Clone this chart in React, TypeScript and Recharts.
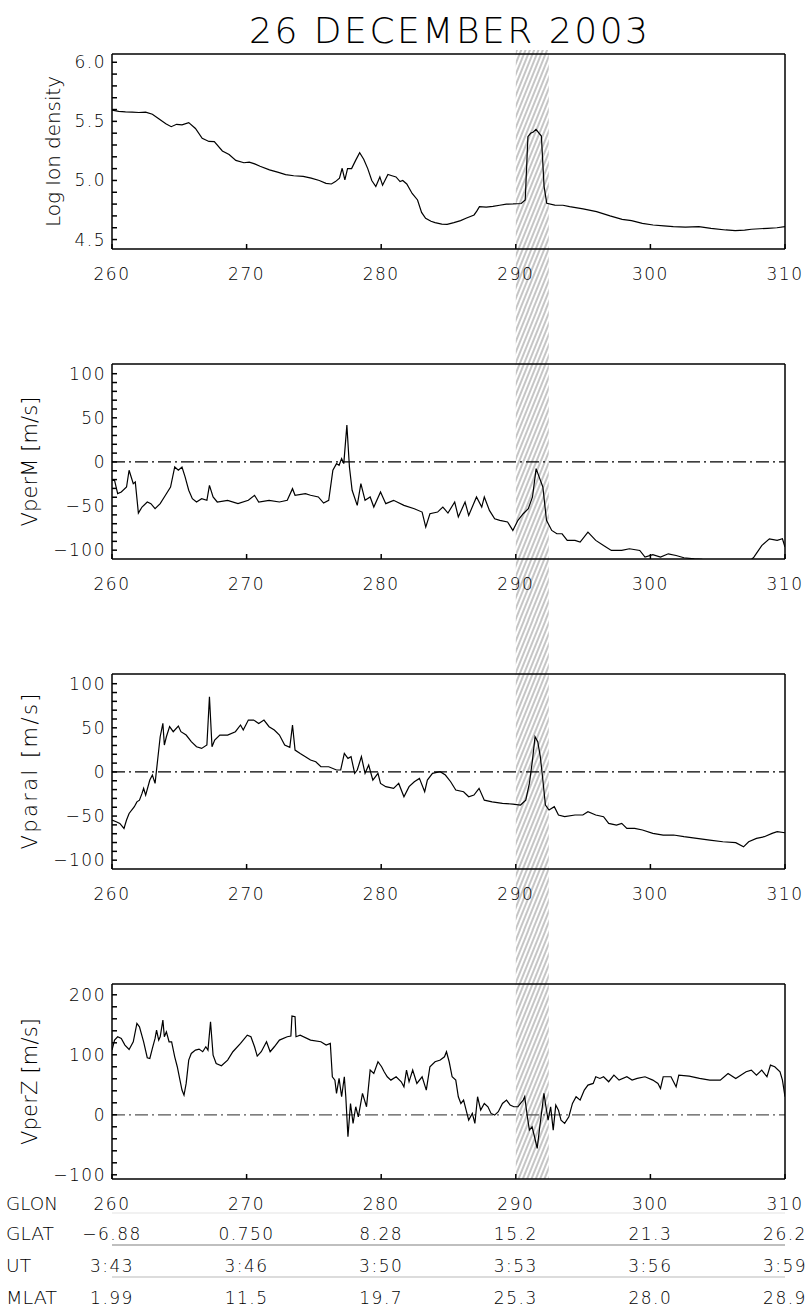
import React from 'react';
import { LineChart, Line, XAxis, YAxis, ReferenceLine, ReferenceArea } from 'recharts';

const W = 809;
const FONT = "'DejaVu Sans', 'Liberation Sans', sans-serif";
const INK = '#000';

// x axis + the table rows under the last panel
const glonTicks = [260, 270, 280, 290, 300, 310];
const glatLabels = ['−6.88', '0.750', '8.28', '15.2', '21.3', '26.2'];
const utLabels = ['3:43', '3:46', '3:50', '3:53', '3:56', '3:59'];
const mlatLabels = ['1.99', '11.5', '19.7', '25.3', '28.0', '28.9'];

// hatched longitude band
const bandLon = [290.0, 292.45];

const densTicks = [4.5, 4.6, 4.7, 4.8, 4.9, 5.0, 5.1, 5.2, 5.3, 5.4, 5.5, 5.6, 5.7, 5.8, 5.9, 6.0];
const velTicks = [-100, -90, -80, -70, -60, -50, -40, -30, -20, -10, 0, 10, 20, 30, 40, 50, 60, 70, 80, 90, 100];
const perZTicks = [-100, -80, -60, -40, -20, 0, 20, 40, 60, 80, 100, 120, 140, 160, 180, 200];

// Log ion density
const densLon = [260.0, 260.5, 261.0, 261.5, 262.0, 262.5, 263.0, 263.5, 264.0, 264.4, 264.8, 265.2, 265.7, 266.2, 266.7, 267.2, 267.6, 268.2, 268.7, 269.2, 269.8, 270.2, 270.6, 271.0, 271.7, 272.3, 272.9, 273.5, 274.2, 274.8, 275.4, 275.9, 276.3, 276.6, 276.9, 277.1, 277.3, 277.5, 277.8, 278.1, 278.4, 278.7, 279.0, 279.3, 279.6, 279.9, 280.1, 280.5, 280.8, 281.1, 281.4, 281.6, 281.9, 282.3, 282.7, 283.0, 283.3, 283.7, 284.0, 284.5, 284.9, 285.4, 285.9, 286.3, 286.9, 287.1, 287.3, 287.8, 288.3, 288.8, 289.3, 289.8, 290.4, 290.7, 290.9, 291.1, 291.3, 291.5, 291.9, 292.1, 292.3, 292.9, 293.5, 294.0, 295.0, 296.0, 297.0, 297.9, 298.6, 299.4, 300.2, 301.0, 301.7, 302.6, 303.6, 304.5, 305.6, 306.3, 307.0, 307.5, 308.7, 309.4, 310.0];
const densVal = [5.596, 5.585, 5.58, 5.578, 5.575, 5.578, 5.56, 5.52, 5.48, 5.455, 5.475, 5.47, 5.489, 5.44, 5.357, 5.33, 5.328, 5.25, 5.22, 5.17, 5.15, 5.155, 5.14, 5.12, 5.09, 5.07, 5.05, 5.04, 5.035, 5.02, 5.0, 4.976, 4.97, 4.99, 5.02, 5.103, 5.004, 5.1, 5.1, 5.17, 5.235, 5.18, 5.1, 5.0, 4.948, 5.03, 4.96, 5.05, 5.04, 5.03, 4.99, 5.0, 4.97, 4.89, 4.835, 4.73, 4.68, 4.655, 4.643, 4.63, 4.629, 4.643, 4.66, 4.68, 4.708, 4.74, 4.778, 4.775, 4.78, 4.79, 4.8, 4.801, 4.805, 4.835, 5.371, 5.399, 5.41, 5.433, 5.376, 4.95, 4.807, 4.792, 4.79, 4.778, 4.76, 4.736, 4.7, 4.671, 4.66, 4.637, 4.623, 4.615, 4.609, 4.605, 4.609, 4.595, 4.581, 4.575, 4.58, 4.587, 4.595, 4.6, 4.609];

// VperM [m/s]
const perMLon = [260.0, 260.19, 260.42, 260.69, 261.08, 261.27, 261.58, 261.73, 261.96, 262.23, 262.62, 262.89, 263.2, 263.58, 263.97, 264.35, 264.66, 264.93, 265.2, 265.43, 265.7, 265.97, 266.28, 266.66, 267.05, 267.24, 267.51, 267.82, 268.59, 269.36, 270.13, 270.59, 270.9, 271.67, 272.44, 273.02, 273.41, 273.6, 274.37, 274.75, 275.33, 275.72, 276.1, 276.41, 276.68, 276.87, 277.06, 277.22, 277.45, 277.64, 277.84, 278.22, 278.49, 278.8, 279.18, 279.45, 279.95, 280.34, 280.92, 281.69, 282.46, 283.04, 283.31, 283.62, 284.19, 284.58, 284.96, 285.46, 285.73, 286.23, 286.5, 287.08, 287.47, 287.66, 288.04, 288.43, 288.81, 289.39, 289.78, 290.16, 290.55, 290.93, 291.24, 291.51, 291.78, 292.01, 292.28, 292.67, 293.05, 293.44, 293.82, 294.4, 294.78, 295.36, 295.94, 296.52, 297.1, 297.87, 298.44, 299.21, 299.6, 300.18, 300.75, 301.33, 301.91, 302.49, 303.26, 303.84, 304.3, 305.5, 306.8, 307.4, 307.69, 308.27, 308.84, 309.42, 309.81, 310.0];
const perMVal = [-20.8, -20.8, -35.9, -34.0, -28.4, -9.4, -24.6, -22.7, -57.9, -51.1, -45.4, -47.3, -53.0, -47.3, -37.8, -28.4, -5.7, -9.4, -5.7, -17.0, -32.1, -41.7, -45.4, -41.7, -43.5, -26.5, -39.7, -45.4, -43.5, -47.3, -43.5, -37.8, -45.4, -43.5, -45.4, -43.5, -30.3, -37.8, -36.0, -37.8, -39.7, -46.6, -43.5, -9.4, -1.9, -3.8, 3.8, -1.9, 41.7, -5.7, -32.1, -49.2, -24.6, -43.5, -39.7, -51.1, -34.0, -47.3, -43.5, -49.2, -53.0, -56.8, -73.8, -58.7, -56.8, -51.1, -57.9, -45.4, -62.4, -45.4, -60.6, -39.7, -51.1, -39.7, -54.9, -64.4, -66.2, -68.1, -77.6, -66.2, -58.7, -53.0, -39.7, -7.6, -18.9, -28.4, -66.2, -77.6, -81.4, -81.4, -88.9, -88.9, -90.8, -79.5, -88.9, -94.8, -100.3, -100.3, -98.4, -100.3, -107.9, -105.1, -107.9, -104.1, -106.0, -108.6, -109.8, -110.5, -115.0, -120.0, -118.0, -112.0, -107.9, -94.8, -87.1, -88.9, -87.1, -96.5];

// Vparal [m/s]
const paralLon = [260.0, 260.31, 260.58, 260.89, 261.08, 261.27, 261.66, 261.85, 262.04, 262.23, 262.35, 262.5, 262.81, 263.0, 263.2, 263.39, 263.58, 263.78, 263.89, 264.04, 264.28, 264.55, 264.93, 265.12, 265.51, 265.89, 266.28, 266.66, 267.05, 267.24, 267.43, 267.63, 268.01, 268.59, 269.17, 269.55, 269.75, 270.13, 270.52, 270.9, 271.29, 271.67, 272.06, 272.44, 272.83, 273.21, 273.41, 273.6, 273.98, 274.37, 274.75, 275.14, 275.52, 276.1, 276.68, 276.99, 277.26, 277.53, 277.76, 278.03, 278.22, 278.53, 278.8, 279.07, 279.38, 279.76, 279.95, 280.34, 280.92, 281.3, 281.69, 282.07, 282.46, 282.84, 283.23, 283.43, 283.81, 284.38, 284.77, 285.16, 285.54, 286.12, 286.5, 286.89, 287.27, 287.66, 288.24, 289.01, 289.78, 290.35, 290.74, 291.01, 291.24, 291.43, 291.63, 291.82, 292.01, 292.2, 292.47, 292.86, 293.17, 293.63, 294.4, 294.98, 295.36, 295.94, 296.52, 296.9, 297.48, 297.87, 298.25, 298.83, 299.41, 300.18, 300.95, 301.72, 302.49, 303.45, 304.41, 305.38, 306.34, 306.92, 307.3, 307.88, 308.46, 309.04, 309.42, 310.0];
const paralVal = [-54.5, -56.4, -58.3, -64.0, -54.5, -47.1, -39.4, -33.9, -32.0, -24.3, -18.6, -26.2, -9.2, -3.5, -13.0, 13.5, 39.9, 55.0, 30.5, 39.9, 51.3, 45.6, 52.0, 45.6, 41.8, 34.3, 28.6, 26.7, 30.5, 85.3, 28.6, 36.2, 41.8, 41.8, 45.6, 53.2, 47.5, 58.8, 58.8, 55.0, 58.8, 51.3, 47.5, 41.8, 30.5, 27.8, 53.2, 24.8, 21.0, 17.3, 13.5, 11.6, 5.9, 5.9, 2.2, 2.2, 21.0, 15.4, 17.3, -1.6, 2.2, 17.3, -1.6, 7.8, -9.2, -1.6, -13.0, -16.7, -18.6, -13.0, -28.1, -16.7, -11.1, -7.3, -22.4, -9.2, -1.6, 0.3, -3.5, -11.1, -20.5, -22.4, -28.1, -26.2, -18.6, -32.0, -33.9, -35.6, -36.4, -37.5, -32.0, -13.0, 13.5, 39.9, 34.3, 17.3, -9.2, -37.5, -43.2, -39.4, -48.8, -50.7, -48.8, -48.8, -45.1, -48.8, -50.7, -58.3, -60.2, -58.3, -64.0, -64.0, -65.8, -69.6, -71.5, -71.5, -73.4, -75.3, -77.2, -79.1, -80.2, -84.9, -79.1, -75.3, -73.4, -69.6, -67.7, -68.9];

// VperZ [m/s]
const perZLon = [260.0, 260.19, 260.42, 260.69, 260.96, 261.27, 261.58, 261.85, 262.04, 262.35, 262.62, 262.81, 263.0, 263.2, 263.31, 263.47, 263.58, 263.78, 263.89, 264.04, 264.24, 264.43, 264.66, 264.85, 265.05, 265.2, 265.35, 265.51, 265.7, 265.89, 266.2, 266.47, 266.74, 266.97, 267.13, 267.32, 267.51, 267.74, 268.13, 268.59, 268.98, 269.55, 270.05, 270.32, 270.59, 270.79, 271.09, 271.48, 271.75, 272.06, 272.44, 273.02, 273.29, 273.37, 273.6, 273.67, 273.98, 274.75, 275.52, 275.91, 276.22, 276.37, 276.56, 276.68, 276.87, 277.06, 277.26, 277.37, 277.53, 277.72, 277.91, 278.11, 278.3, 278.61, 278.91, 279.18, 279.45, 279.76, 280.03, 280.22, 280.45, 280.72, 281.11, 281.49, 281.69, 281.88, 282.07, 282.34, 282.65, 283.04, 283.35, 283.62, 284.0, 284.39, 284.7, 284.85, 285.05, 285.27, 285.54, 285.73, 285.92, 286.12, 286.31, 286.5, 286.77, 286.96, 287.16, 287.39, 287.66, 287.93, 288.16, 288.43, 288.7, 289.01, 289.31, 289.58, 289.85, 290.16, 290.35, 290.55, 290.66, 290.86, 291.01, 291.21, 291.39, 291.59, 291.78, 291.97, 292.09, 292.24, 292.4, 292.59, 292.78, 292.97, 293.17, 293.36, 293.63, 293.94, 294.21, 294.48, 294.78, 295.09, 295.36, 295.75, 295.94, 296.25, 296.52, 296.9, 297.29, 297.67, 298.25, 298.64, 299.02, 299.6, 300.18, 300.56, 300.75, 300.95, 301.53, 301.91, 302.11, 302.88, 303.65, 304.41, 305.19, 305.77, 306.34, 307.11, 307.5, 307.88, 308.27, 308.66, 308.92, 309.24, 309.63, 309.81, 310.0];
const perZVal = [107.8, 124.5, 130.1, 127.3, 116.2, 108.9, 121.7, 152.3, 146.7, 121.7, 95.1, 93.9, 110.6, 127.3, 141.2, 124.5, 130.1, 157.8, 130.1, 138.4, 121.7, 121.7, 96.7, 80.1, 57.8, 41.2, 32.8, 52.3, 91.2, 102.3, 107.8, 109.5, 105.1, 113.4, 107.8, 155.0, 99.5, 85.6, 81.7, 91.2, 105.1, 118.9, 132.8, 130.1, 113.4, 97.8, 105.1, 121.7, 105.1, 113.4, 124.5, 130.1, 131.2, 164.5, 163.4, 130.1, 132.8, 124.5, 121.7, 116.2, 118.9, 63.4, 57.8, 35.6, 60.6, 30.1, 63.4, 30.1, -36.6, 18.9, -14.4, 13.4, -3.3, 35.6, 13.4, 74.5, 68.9, 88.4, 80.1, 71.7, 63.4, 57.8, 63.4, 55.1, 46.7, 74.5, 55.1, 74.5, 52.3, 63.4, 41.2, 80.1, 88.4, 91.2, 96.7, 105.1, 88.4, 63.4, 57.8, 30.1, 18.9, 24.5, 7.8, -8.8, 2.3, -14.4, 30.1, 7.8, 18.9, 13.4, 2.3, -0.5, 5.1, 18.9, 24.5, 16.2, 13.4, 13.4, 18.9, 24.5, 30.1, -3.3, -25.5, -19.9, -36.6, -56.1, -19.9, 13.4, 35.6, 13.4, -8.8, 13.4, -25.5, 16.2, 7.8, -8.8, -14.4, -3.3, 18.9, 30.1, 24.5, 41.2, 49.5, 52.3, 63.4, 60.6, 63.4, 55.1, 66.2, 57.8, 63.4, 57.8, 60.6, 63.4, 57.8, 52.3, 43.9, 63.4, 63.4, 46.7, 66.2, 64.5, 60.6, 57.8, 57.8, 68.9, 60.6, 71.7, 74.5, 66.2, 74.5, 63.4, 82.8, 80.1, 71.7, 57.8, 30.1];

const fmtMinus = (v: number) => String(v).replace('-', '−');

const panels = [
  {
    lon: densLon, val: densVal, domain: [4.42, 6.07], ticks: densTicks,
    fmt: (v: number) => (Math.abs(v * 2 - Math.round(v * 2)) < 1e-6 ? v.toFixed(1) : ''),
    label: 'Log Ion density', labelX: 60, labelLen: 151, labelSize: 20, zero: null,
  },
  {
    lon: perMLon, val: perMVal, domain: [-110, 111], ticks: velTicks,
    fmt: (v: number) => (v % 50 === 0 ? fmtMinus(v) : ''),
    label: 'VperM [m/s]', labelX: 37, labelLen: 130, labelSize: 21, zero: '#000',
  },
  {
    lon: paralLon, val: paralVal, domain: [-110, 111], ticks: velTicks,
    fmt: (v: number) => (v % 50 === 0 ? fmtMinus(v) : ''),
    label: 'Vparal [m/s]', labelX: 37, labelLen: 156, labelSize: 21, zero: '#000',
  },
  {
    lon: perZLon, val: perZVal, domain: [-107, 218], ticks: perZTicks,
    fmt: (v: number) => (v % 100 === 0 ? fmtMinus(v) : ''),
    label: 'VperZ [m/s]', labelX: 37, labelLen: 127, labelSize: 21, zero: '#555',
  },
];

const frame = { stroke: '#000', strokeWidth: 1.5 };
const tickStyle = { fontSize: 17, fontFamily: FONT, fontWeight: 200, fill: INK, letterSpacing: 1.5 };

function Hatch(props: any) {
  const { x, y, width, height, id, ext } = props;
  if (x == null || y == null) return null;
  return (
    <g>
      <defs>
        <pattern id={id} patternUnits="userSpaceOnUse" width={4} height={4} patternTransform="rotate(22)">
          <line x1={2} y1={0} x2={2} y2={4} stroke="#8c8c8c" strokeWidth={1} />
        </pattern>
      </defs>
      <rect x={x} y={y - ext[0]} width={width} height={height + ext[0] + ext[1]} fill={`url(#${id})`} />
    </g>
  );
}

function SideLabel({ viewBox, text, x, len, size }: any) {
  const vb = viewBox || {};
  const cy = (vb.y ?? 54) + (vb.height ?? 195) / 2;
  return (
    <text x={x} y={cy} transform={`rotate(-90 ${x} ${cy})`} textAnchor="middle" fontFamily={FONT}
      fontWeight={200} fontSize={size} fill={INK} textLength={len} lengthAdjust="spacing">
      {text}
    </text>
  );
}

function RowLabel({ viewBox, text, off, len, top }: any) {
  const vb = viewBox || {};
  const y = (vb.y ?? top) + off;
  return (
    <text x={6} y={y} fontFamily={FONT} fontWeight={200} fontSize={17} fill={INK} textLength={len} lengthAdjust="spacingAndGlyphs">
      {text}
    </text>
  );
}

function Title({ viewBox }: any) {
  const vb = viewBox || {};
  const cx = vb.x != null ? vb.x + vb.width / 2 : 448.5;
  return (
    <text x={cx} y={43} textAnchor="middle" fontFamily={FONT} fontWeight={200} fontSize={36} fill={INK} textLength={399} lengthAdjust="spacing">
      26 DECEMBER 2003
    </text>
  );
}

function rowAxis(id: string, labels: string[], name: string, len: number, top: number, line: string) {
  return (
    <XAxis key={id} xAxisId={id} type="number" dataKey="lon" domain={[260, 310]} allowDataOverflow ticks={glonTicks} interval={0}
      tickSize={0} tickMargin={15} height={32} tickLine={false} axisLine={{ stroke: line, strokeWidth: 1.5 }} tick={tickStyle}
      tickFormatter={(v: number) => labels[glonTicks.indexOf(v)] ?? ''}
      label={{ content: (p: any) => <RowLabel {...p} text={name} off={27} len={len} top={top} /> }} />
  );
}

function Panel({ cfg, index }: any) {
  const last = index === panels.length - 1;
  const height = last ? 379 : 310;
  const data = cfg.lon.map((lon: number, i: number) => ({ lon, v: cfg.val[i] }));
  const ext = [index === 0 ? 4 : 54, last ? 0 : 61];
  const hatchId = `hatch-${index}`;
  return (
    <div style={{ position: 'absolute', left: 0, top: index * 310 }}>
      <LineChart width={W} height={height} data={data} margin={{ top: 53, right: 20, bottom: 0, left: 0 }}>
        <XAxis xAxisId="top" orientation="top" type="number" dataKey="lon" domain={[260, 310]} allowDataOverflow
          ticks={glonTicks} interval={0} tick={false} tickSize={-5} height={1} axisLine={frame} tickLine={frame}
          label={index === 0 ? { content: (p: any) => <Title {...p} /> } : undefined} />
        <XAxis type="number" dataKey="lon" domain={[260, 310]} allowDataOverflow ticks={glonTicks} interval={0}
          tickSize={-5} tickMargin={24} height={last ? 34 : 61} axisLine={frame} tickLine={frame} tick={tickStyle}
          label={last ? { content: (p: any) => <RowLabel {...p} text="GLON" off={31} len={52} top={249} /> } : undefined} />
        {last && rowAxis('row1', glatLabels, 'GLAT', 48, 283, '#ececec')}
        {last && rowAxis('row2', utLabels, 'UT', 25, 315, '#aaaaaa')}
        {last && rowAxis('row3', mlatLabels, 'MLAT', 51, 347, '#d0d0d0')}
        <YAxis type="number" domain={cfg.domain} allowDataOverflow ticks={cfg.ticks} interval={0} tickSize={-5}
          tickMargin={11} width={112} axisLine={frame} tickLine={frame} tick={tickStyle} tickFormatter={cfg.fmt}
          label={{ content: (p: any) => <SideLabel {...p} text={cfg.label} x={cfg.labelX} len={cfg.labelLen} size={cfg.labelSize} /> }} />
        <YAxis yAxisId="right" orientation="right" type="number" domain={cfg.domain} allowDataOverflow ticks={cfg.ticks}
          interval={0} tickSize={-5} width={4} tick={false} axisLine={frame} tickLine={frame} />
        <ReferenceArea x1={bandLon[0]} x2={bandLon[1]} ifOverflow="visible"
          shape={(p: any) => <Hatch {...p} id={hatchId} ext={ext} />} />
        {cfg.zero && <ReferenceLine y={0} stroke={cfg.zero} strokeWidth={1.2} strokeDasharray="13 4 2 4" />}
        <Line type="linear" dataKey="v" stroke="#000" strokeWidth={1.2} dot={false} isAnimationActive={false} />
      </LineChart>
    </div>
  );
}

export default function App() {
  return (
    <div style={{ position: 'absolute', left: 0, top: 0, width: W, height: 1309, background: '#fff', overflow: 'hidden' }}>
      {panels.map((cfg, i) => (
        <Panel key={i} cfg={cfg} index={i} />
      ))}
    </div>
  );
}
